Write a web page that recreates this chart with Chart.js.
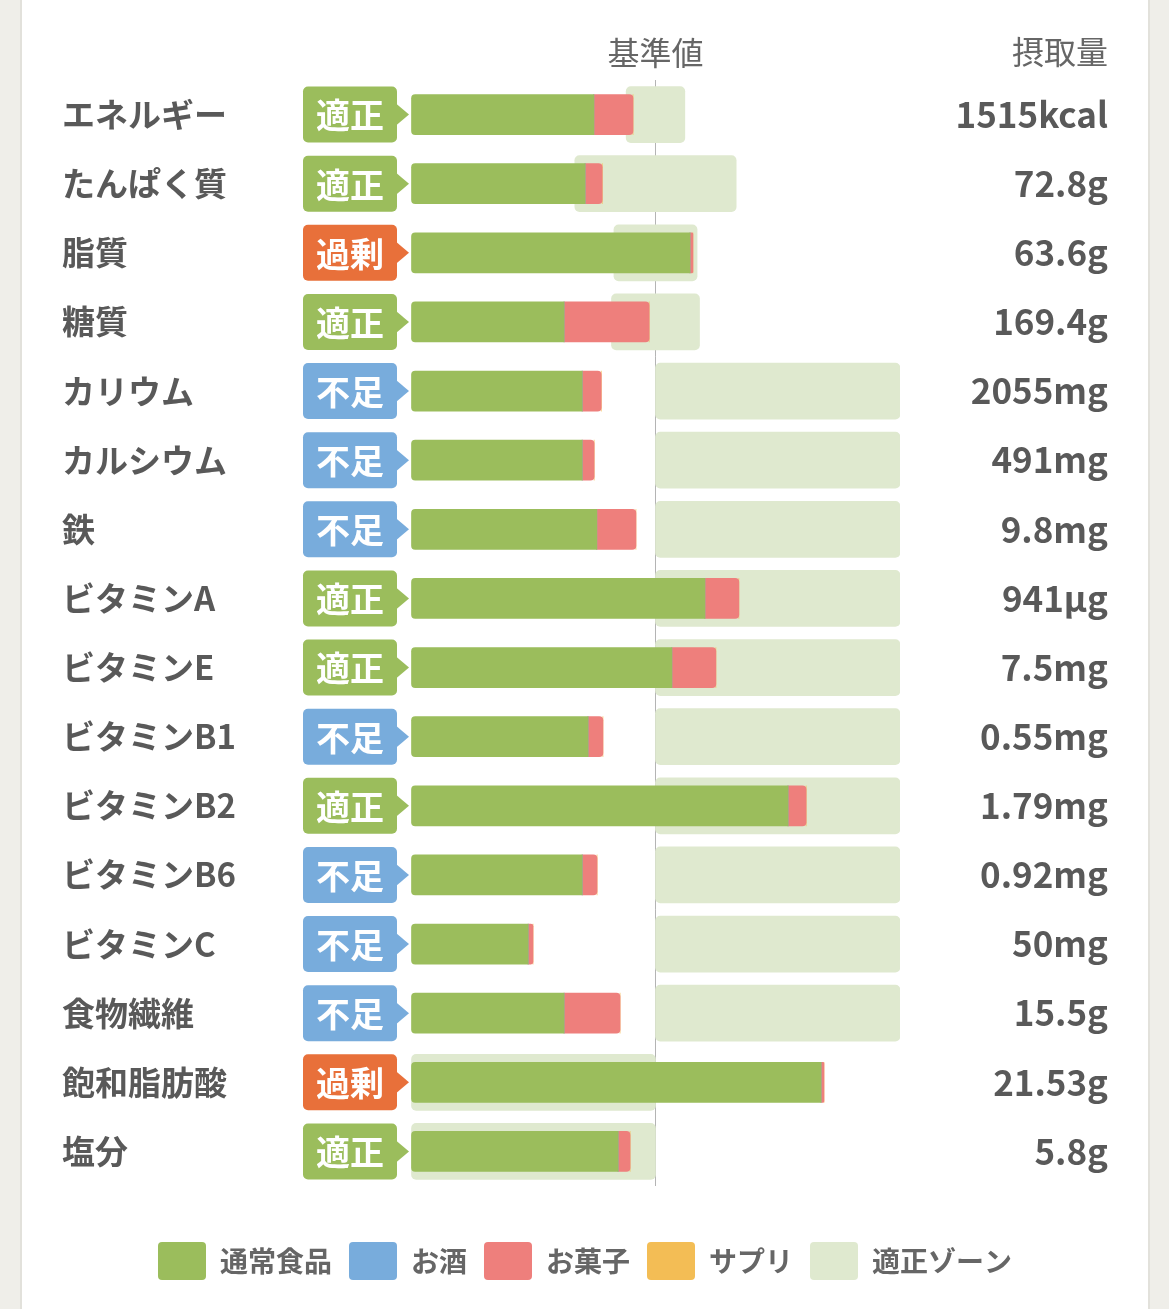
<!DOCTYPE html>
<html lang="ja">
<head>
<meta charset="utf-8">
<title>栄養素摂取量</title>
<script src="https://cdn.jsdelivr.net/npm/chart.js@4.4.1/dist/chart.umd.min.js"></script>
<style>
  html, body { margin: 0; padding: 0; background: #efeee9; }
  #card { position: absolute; left: 20px; top: 0; width: 1126px; height: 1309px; background: #fff;
          border-left: 2px solid #e2e1db; border-right: 2px solid #e2e1db; }
  #wrap { position: absolute; left: 0; top: 0; width: 1169px; height: 1309px; }
</style>
</head>
<body>
<div id="card"></div>
<div id="wrap"><canvas id="chart"></canvas></div>
<script>
// 栄養素と摂取量（表示テキスト）
const nutrients = ['エネルギー', 'たんぱく質', '脂質', '糖質', 'カリウム', 'カルシウム', '鉄', 'ビタミンA',
                   'ビタミンE', 'ビタミンB1', 'ビタミンB2', 'ビタミンB6', 'ビタミンC', '食物繊維', '飽和脂肪酸', '塩分'];
const intakeText = ['1515kcal', '72.8g', '63.6g', '169.4g', '2055mg', '491mg', '9.8mg', '941μg',
                    '7.5mg', '0.55mg', '1.79mg', '0.92mg', '50mg', '15.5g', '21.53g', '5.8g'];
const judge = ['適正', '適正', '過剰', '適正', '不足', '不足', '不足', '適正',
               '適正', '不足', '適正', '不足', '不足', '不足', '過剰', '適正'];

// 基準値に対する割合（%）
const normalFood = [74.8, 71.2, 114.1, 62.6, 70, 70, 76, 120.2, 106.7, 72.4, 154.2, 70, 47.9, 62.6, 167.7, 84.7];
const alcohol    = [0, 0, 0, 0, 0, 0, 0, 0, 0, 0, 0, 0, 0, 0, 0, 0];
const snacks     = [16, 7, 1.2, 34.8, 7.8, 4.9, 16, 13.9, 18, 6.1, 7.4, 6.1, 2, 22.9, 1.2, 4.9];
const supplement = [0, 0, 0, 0, 0, 0, 0, 0, 0, 0, 0, 0, 0, 0, 0, 0];
const zoneLow    = [88, 67, 83, 82, 100, 100, 100, 100, 100, 100, 100, 100, 100, 100, 0, 0];
const zoneHigh   = [112, 133, 117, 118, 200, 200, 200, 200, 200, 200, 200, 200, 200, 200, 100, 100];

const FONT = '"Noto Sans CJK JP", "Noto Sans", sans-serif';
const judgeColors = { '適正': '#9bbd5c', '過剰': '#e8703a', '不足': '#78acdc' };

// バッジと「摂取量」見出し
const badgePlugin = {
  id: 'badges',
  afterDraw(chart) {
    const { ctx, chartArea, scales } = chart;
    ctx.save();
    judge.forEach((j, i) => {
      const cy = scales.y.getPixelForValue(i);
      const right = chartArea.left - 14;
      const left = right - 94;
      const h = 56;
      ctx.fillStyle = judgeColors[j];
      ctx.beginPath();
      ctx.roundRect(left, cy - h / 2, right - left, h, 5);
      ctx.fill();
      ctx.beginPath();
      ctx.moveTo(right - 1, cy - 11);
      ctx.lineTo(right + 12, cy);
      ctx.lineTo(right - 1, cy + 11);
      ctx.closePath();
      ctx.fill();
      ctx.fillStyle = '#fff';
      ctx.font = 'bold 34px ' + FONT;
      ctx.textAlign = 'center';
      ctx.textBaseline = 'middle';
      ctx.fillText(j, (left + right) / 2, cy + 1);
    });
    ctx.fillStyle = '#666';
    ctx.font = '32px ' + FONT;
    ctx.textAlign = 'right';
    ctx.textBaseline = 'middle';
    ctx.fillText('摂取量', scales.y2.right, chartArea.top - 28);
    ctx.restore();
  }
};

const zoneData = zoneLow.map((lo, i) => [lo, zoneHigh[i]]);

const common = { grouped: false, categoryPercentage: 1, barPercentage: 1, maxBarThickness: 40,
                 borderSkipped: false, stack: 'intake', order: 0 };

new Chart(document.getElementById('chart'), {
  type: 'bar',
  data: {
    labels: nutrients,
    datasets: [
      { ...common, label: '通常食品', data: normalFood, backgroundColor: '#9bbd5c',
        borderRadius: { topLeft: 4, bottomLeft: 4, topRight: 0, bottomRight: 0 } },
      { ...common, label: 'お酒', data: alcohol, backgroundColor: '#78acdc', borderRadius: 0 },
      { ...common, label: 'お菓子', data: snacks, backgroundColor: '#ee7f7c',
        borderRadius: { topLeft: 0, bottomLeft: 0, topRight: 4, bottomRight: 4 } },
      { ...common, label: 'サプリ', data: supplement, backgroundColor: '#f3bd55',
        borderRadius: { topLeft: 0, bottomLeft: 0, topRight: 4, bottomRight: 4 } },
      { label: '適正ゾーン', data: zoneData, backgroundColor: '#dfe9cf', grouped: false,
        categoryPercentage: 1, barPercentage: 1, maxBarThickness: 56, borderSkipped: false,
        borderRadius: 5, stack: 'zone', order: 1 }
    ]
  },
  options: {
    indexAxis: 'y',
    responsive: true,
    maintainAspectRatio: false,
    animation: false,
    layout: { padding: { top: 20, left: 62, right: 61, bottom: 19 } },
    scales: {
      x: {
        position: 'top',
        stacked: true,
        min: 0,
        max: 200,
        z: 1,
        afterFit: s => { s.height = 60; },
        border: { display: false },
        grid: {
          drawTicks: false,
          color: c => (c.tick && c.tick.value === 100) ? 'rgba(130,130,130,0.6)' : 'rgba(0,0,0,0)',
          lineWidth: 1
        },
        ticks: {
          stepSize: 100,
          padding: 8,
          color: '#666',
          font: { family: FONT, size: 32 },
          callback: v => v === 100 ? '基準値' : ''
        }
      },
      y: {
        afterFit: s => { s.width = 349; },
        border: { display: false },
        grid: { display: false },
        ticks: {
          crossAlign: 'far',
          autoSkip: false,
          color: '#595959',
          font: { family: FONT, size: 33, weight: 'bold' }
        }
      },
      y2: {
        type: 'category',
        position: 'right',
        labels: intakeText,
        offset: true,
        afterFit: s => { s.width = 208; },
        border: { display: false },
        grid: { display: false },
        ticks: {
          crossAlign: 'far',
          autoSkip: false,
          color: '#595959',
          font: { family: FONT, size: 35, weight: 'bold' }
        }
      }
    },
    plugins: {
      tooltip: { enabled: false },
      legend: {
        position: 'bottom',
        title: { display: true, text: ' ', font: { size: 10 }, padding: 13.5 },
        labels: {
          boxWidth: 48,
          boxHeight: 38,
          padding: 17,
          useBorderRadius: true,
          borderRadius: 4,
          color: '#666',
          font: { family: FONT, size: 28, weight: 'bold' }
        }
      }
    }
  },
  plugins: [badgePlugin]
});
</script>
</body>
</html>
